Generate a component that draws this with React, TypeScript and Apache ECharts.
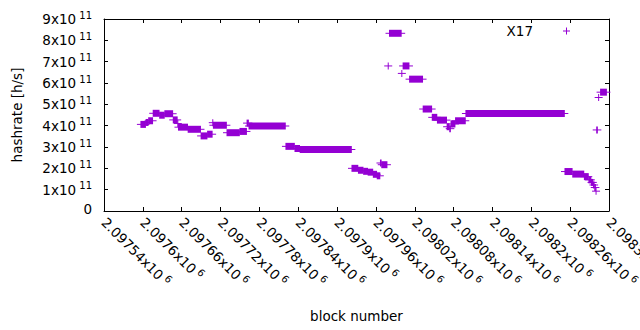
import React, { useEffect, useRef } from "react";
import * as echarts from "echarts";

const seriesName = "X17";
const markerColor = "#9400d3";

// block ranges (first block, last block) of runs of equal hashrate values
const segStart = [
  2097597, 2097605, 2097609, 2097616, 2097626, 2097634, 2097647, 2097654, 2097655, 2097670,
  2097690, 2097700, 2097708, 2097709, 2097730, 2097750, 2097761, 2097764, 2097821, 2097835,
  2097843, 2097923, 2097933, 2097941, 2097948, 2097956, 2097962, 2097967, 2097969, 2097979,
  2097981, 2098000, 2098002, 2098012, 2098033, 2098047, 2098055, 2098070, 2098074, 2098076,
  2098083, 2098099, 2098252, 2098264, 2098282, 2098289, 2098293, 2098296, 2098298, 2098300,
  2098301, 2098304, 2098307,
];
const segEnd = [
  2097604, 2097608, 2097615, 2097625, 2097633, 2097646, 2097653, 2097654, 2097669, 2097689,
  2097699, 2097707, 2097708, 2097729, 2097749, 2097760, 2097763, 2097820, 2097834, 2097842,
  2097922, 2097932, 2097940, 2097947, 2097955, 2097961, 2097966, 2097968, 2097977, 2097979,
  2097999, 2098000, 2098011, 2098032, 2098046, 2098054, 2098069, 2098073, 2098075, 2098082,
  2098098, 2098251, 2098263, 2098281, 2098288, 2098292, 2098295, 2098297, 2098299, 2098300,
  2098302, 2098304, 2098316,
];
const segValue = [
  4.06e11, 4.15e11, 4.23e11, 4.58e11, 4.49e11, 4.56e11, 4.27e11, 4.1e11, 3.93e11, 3.83e11,
  3.52e11, 3.6e11, 4.14e11, 4.02e11, 3.67e11, 3.73e11, 4.12e11, 3.98e11, 3.03e11, 2.93e11,
  2.88e11, 2.0e11, 1.91e11, 1.86e11, 1.82e11, 1.72e11, 1.65e11, 2.25e11, 2.17e11, 6.8e11,
  8.33e11, 6.45e11, 6.8e11, 6.18e11, 4.78e11, 4.39e11, 4.26e11, 3.95e11, 3.86e11, 4.08e11,
  4.23e11, 4.57e11, 1.85e11, 1.73e11, 1.61e11, 1.46e11, 1.34e11, 1.22e11, 1.1e11, 0.93e11,
  3.8e11, 5.32e11, 5.57e11,
];

const xMin = 2097540;
const xMax = 2098320;
const xStep = 60;
const xTickLabels = [
  "2.09754x10", "2.0976x10", "2.09766x10", "2.09772x10", "2.09778x10", "2.09784x10", "2.0979x10",
  "2.09796x10", "2.09802x10", "2.09808x10", "2.09814x10", "2.0982x10", "2.09826x10", "2.09832x10",
];
const xExponent = "6";

const yMin = 0;
const yMax = 9e11;
const yStep = 1e11;
const yTickLabels = ["0", "1x10", "2x10", "3x10", "4x10", "5x10", "6x10", "7x10", "8x10", "9x10"];
const yExponent = "11";

const FONT = "DejaVu Sans";
const FS = 13.5;

export default function App() {
  const ref = useRef<HTMLDivElement>(null);
  useEffect(() => {
    document.body.style.margin = "0";
    if (!ref.current) return;
    const chart = echarts.init(ref.current, null, { renderer: "svg" });
    const data = segStart.map((s, i) => [s, segEnd[i], segValue[i]]);
    const rich = {
      a: { fontFamily: FONT, fontSize: FS, color: "#000", lineHeight: 14, verticalAlign: "bottom" },
      b: { fontFamily: FONT, fontSize: 10, color: "#000", lineHeight: 10, padding: [0, 0, 8, 0] },
      z: { fontFamily: FONT, fontSize: FS, color: "#000", lineHeight: 14, padding: [0, 0, 4, 0] },
    };
    const axisLine = { show: true, onZero: false, lineStyle: { color: "#000", width: 1 } };
    const axisTick = { show: true, inside: true, length: 4, lineStyle: { color: "#000", width: 1 } };
    const option: any = {
      animation: false,
      grid: { left: 104, right: 31, top: 19, bottom: 119, containLabel: false, outerBoundsMode: "none" },
      legend: {
        show: true,
        right: 70,
        top: 24,
        padding: 0,
        align: "right",
        itemWidth: 7,
        itemHeight: 7,
        selectedMode: false,
        data: [{ name: seriesName, icon: "path://M3,0h1v3h3v1h-3v3h-1v-3h-3v-1h3z" }],
        itemStyle: { color: markerColor },
        textStyle: { fontFamily: FONT, fontSize: FS, color: "#000", padding: [0, 25, 0, 0] },
      },
      xAxis: [
        {
          type: "value",
          min: xMin,
          max: xMax,
          interval: xStep,
          position: "bottom",
          name: "block number",
          nameLocation: "middle",
          nameGap: 98,
          nameTextStyle: { fontFamily: FONT, fontSize: FS, color: "#000" },
          axisLine,
          axisTick,
          splitLine: { show: false },
          axisLabel: {
            rotate: -45,
            margin: 9,
            showMinLabel: true,
            showMaxLabel: true,
            formatter: (v: number) => {
              const i = Math.round((v - xMin) / xStep);
              return `{a|${xTickLabels[i]}}{b| ${xExponent}}`;
            },
            rich,
          },
        },
        {
          type: "value",
          min: xMin,
          max: xMax,
          interval: xStep,
          position: "top",
          axisLine,
          axisTick,
          splitLine: { show: false },
          axisLabel: { show: false },
        },
      ],
      yAxis: [
        {
          type: "value",
          min: yMin,
          max: yMax,
          interval: yStep,
          position: "left",
          name: "hashrate [h/s]",
          nameLocation: "middle",
          nameGap: 80,
          nameRotate: 90,
          nameTextStyle: { fontFamily: FONT, fontSize: FS, color: "#000" },
          axisLine,
          axisTick,
          splitLine: { show: false },
          axisLabel: {
            margin: 12,
            formatter: (v: number) => {
              const i = Math.round((v - yMin) / yStep);
              if (i === 0) return `{z|${yTickLabels[0]}}`;
              return `{a|${yTickLabels[i]}}{b| ${yExponent}}`;
            },
            rich,
          },
        },
        {
          type: "value",
          min: yMin,
          max: yMax,
          interval: yStep,
          position: "right",
          axisLine,
          axisTick,
          splitLine: { show: false },
          axisLabel: { show: false },
        },
      ],
      series: [
        {
          name: seriesName,
          type: "custom",
          xAxisIndex: 0,
          yAxisIndex: 0,
          clip: false,
          itemStyle: { color: markerColor },
          encode: { x: [0, 1], y: 2 },
          data,
          renderItem: (_params: any, api: any) => {
            const s = api.coord([api.value(0), api.value(2)]);
            const e = api.coord([api.value(1), api.value(2)]);
            const w = e[0] - s[0];
            return {
              type: "group",
              children: [
                {
                  type: "rect",
                  shape: { x: s[0] - 0.5, y: s[1] - 3.5, width: w + 1, height: 7 },
                  style: { fill: markerColor },
                },
                {
                  type: "rect",
                  shape: { x: s[0] - 4, y: s[1] - 0.5, width: w + 8, height: 1 },
                  style: { fill: markerColor },
                },
              ],
            };
          },
        },
      ],
    };
    chart.setOption(option);
    return () => chart.dispose();
  }, []);
  return <div ref={ref} style={{ width: 640, height: 330 }} />;
}
